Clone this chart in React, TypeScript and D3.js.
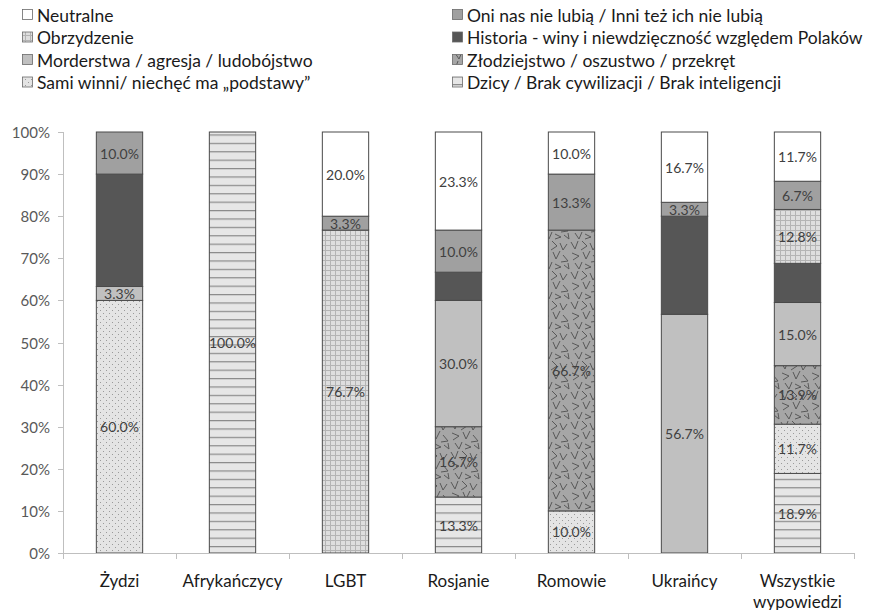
import React from 'react';
import * as d3 from 'd3';

const categories = ['Żydzi', 'Afrykańczycy', 'LGBT', 'Rosjanie', 'Romowie', 'Ukraińcy', 'Wszystkie wypowiedzi'];
// series, listed from bottom of stack to top
const seriesNames = [
  'Dzicy / Brak cywilizacji / Brak inteligencji',
  'Sami winni/ niechęć ma „podstawy”',
  'Złodziejstwo / oszustwo / przekręt',
  'Morderstwa / agresja / ludobójstwo',
  'Historia - winy i niewdzięczność względem Polaków',
  'Obrzydzenie',
  'Oni nas nie lubią / Inni też ich nie lubią',
  'Neutralne',
];
const dzicy = [0, 100, 0, 13.3, 0, 0, 18.9];
const samiWinni = [60, 0, 0, 0, 10, 0, 11.7];
const zlodziejstwo = [0, 0, 0, 16.7, 66.7, 0, 13.9];
const morderstwa = [3.3, 0, 0, 30, 0, 56.7, 15.0];
const historia = [26.7, 0, 0, 6.7, 0, 23.3, 9.3];
const obrzydzenie = [0, 0, 76.7, 0, 0, 0, 12.8];
const oniNas = [10, 0, 3.3, 10, 13.3, 3.3, 6.7];
const neutralne = [0, 0, 20, 23.3, 10, 16.7, 11.7];
const yTicks = [0, 10, 20, 30, 40, 50, 60, 70, 80, 90, 100];

const seriesValues = [dzicy, samiWinni, zlodziejstwo, morderstwa, historia, obrzydzenie, oniNas, neutralne];
const fills = ['url(#pDzicy)', 'url(#pDots)', 'url(#pZlo)', '#c0c0c0', '#565656', 'url(#pGrid)', '#a0a0a0', '#ffffff'];
const showLabel = [true, true, true, true, false, true, true, true];

const W = 872, H = 610;
const m = { left: 63, right: 18, top: 132, bottom: 57 };
const FONT = 'Lato, "Open Sans", sans-serif';

export default function App() {
  const keys = seriesNames.map((_, i) => String(i));
  const rows = categories.map((c, ci) => {
    const r: any = { cat: c };
    seriesValues.forEach((s, si) => (r[String(si)] = s[ci]));
    return r;
  });
  const stack = d3.stack<any>().keys(keys)(rows);
  const x = d3.scaleBand().domain(categories).range([m.left, W - m.right]).paddingInner(0.59).paddingOuter(0.295);
  const y = d3.scaleLinear().domain([0, 100]).range([H - m.bottom, m.top]);
  const step = x.step();
  const x0 = m.left;

  // zlodziejstwo V marks
  const vMarks = [
    'M1,2 L5,9 L8,1', 'M12,1 L17,6 L11,10', 'M20,3 L23,10 L27,4', 'M2,13 L9,16 L3,20',
    'M13,12 L16,19 L20,11', 'M23,15 L28,21 L21,22', 'M5,23 L9,29 L12,22', 'M15,24 L21,27 L15,29',
    'M24,25 L29,29 L28,23',
  ];

  const legendOrder = [7, 6, 5, 4, 3, 2, 1, 0];

  return (
    <svg width={W} height={H} style={{ position: 'absolute', left: 0, top: 0, background: '#fff' }}>
      <defs>
        <pattern id="pDots" width="6" height="6" patternUnits="userSpaceOnUse">
          <rect width="6" height="6" fill="#e4e4e4" />
          <rect x="1" y="1" width="1" height="1" fill="#9a9a9a" />
          <rect x="4" y="4" width="1" height="1" fill="#9a9a9a" />
        </pattern>
        <pattern id="pDzicy" width="8" height="8.4" patternUnits="userSpaceOnUse">
          <rect width="8" height="8.4" fill="#e6e6e6" />
          <rect y="0" width="8" height="1.2" fill="#8a8a8a" />
        </pattern>
        <pattern id="pGrid" width="5" height="5" patternUnits="userSpaceOnUse">
          <rect width="5" height="5" fill="#dedede" />
          <rect x="0" width="1" height="5" fill="#b4b4b4" />
          <rect y="0" width="5" height="1" fill="#b4b4b4" />
        </pattern>
        <pattern id="pZlo" width="30" height="30" patternUnits="userSpaceOnUse">
          <rect width="30" height="30" fill="#a6a6a6" />
          {vMarks.map((d, i) => (
            <path key={i} d={d} fill="none" stroke="#585858" strokeWidth="1" />
          ))}
        </pattern>
      </defs>

      {/* legend */}
      {legendOrder.map((si, i) => {
        const col = i % 2, row = Math.floor(i / 2);
        const lx = col === 0 ? 22 : 452;
        const ly = 15 + row * 22.5;
        return (
          <g key={si}>
            <rect x={lx + 0.5} y={ly - 5.5} width={10} height={10} fill={fills[si]} stroke="#6a6a6a" strokeWidth={0.8} />
            <text x={lx + 15} y={ly} dominantBaseline="central" fontFamily={FONT} fontSize={17.5} fill="#1a1a1a">
              {seriesNames[si]}
            </text>
          </g>
        );
      })}

      {/* y axis */}
      <line x1={x0 + 0.5} x2={x0 + 0.5} y1={y(100)} y2={y(0)} stroke="#bfbfbf" />
      {yTicks.map((t) => (
        <g key={t}>
          <line x1={x0 - 5} x2={x0} y1={Math.round(y(t)) + 0.5} y2={Math.round(y(t)) + 0.5} stroke="#bfbfbf" />
          <text x={50} y={y(t)} textAnchor="end" dominantBaseline="central" fontFamily={FONT} fontSize={15} fill="#595959">
            {t}%
          </text>
        </g>
      ))}

      {/* bars */}
      {stack.map((layer, si) => (
        <g key={si}>
          {layer.map((d, ci) => {
            const v = d[1] - d[0];
            if (v <= 0) return null;
            return (
              <rect key={ci} x={x(categories[ci])!} y={y(d[1])} width={x.bandwidth()} height={y(d[0]) - y(d[1])}
                fill={fills[si]} stroke="#4a4a4a" strokeWidth={1} />
            );
          })}
        </g>
      ))}
      {stack.map((layer, si) =>
        showLabel[si]
          ? layer.map((d, ci) => {
              const v = d[1] - d[0];
              if (v <= 0) return null;
              return (
                <text key={`${si}-${ci}`} x={x(categories[ci])! + x.bandwidth() / 2} y={y((d[0] + d[1]) / 2)}
                  textAnchor="middle" dominantBaseline="central" fontFamily={FONT} fontSize={14} fill="#404040">
                  {v.toFixed(1)}%
                </text>
              );
            })
          : null
      )}

      {/* x axis */}
      <line x1={x0} x2={W - m.right} y1={y(0) + 0.5} y2={y(0) + 0.5} stroke="#bfbfbf" />
      {d3.range(categories.length + 1).map((i) => (
        <line key={i} x1={x0 + i * step + 0.5} x2={x0 + i * step + 0.5} y1={y(0)} y2={y(0) + 6} stroke="#bfbfbf" />
      ))}
      {categories.map((c) => {
        const parts = c === 'Wszystkie wypowiedzi' ? ['Wszystkie', 'wypowiedzi'] : [c];
        return (
          <text key={c} x={x(c)! + x.bandwidth() / 2} y={580} textAnchor="middle" dominantBaseline="central"
            fontFamily={FONT} fontSize={17} fill="#1a1a1a">
            {parts.map((p, i) => (
              <tspan key={i} x={x(c)! + x.bandwidth() / 2} dy={i === 0 ? 0 : 21}>{p}</tspan>
            ))}
          </text>
        );
      })}
    </svg>
  );
}
